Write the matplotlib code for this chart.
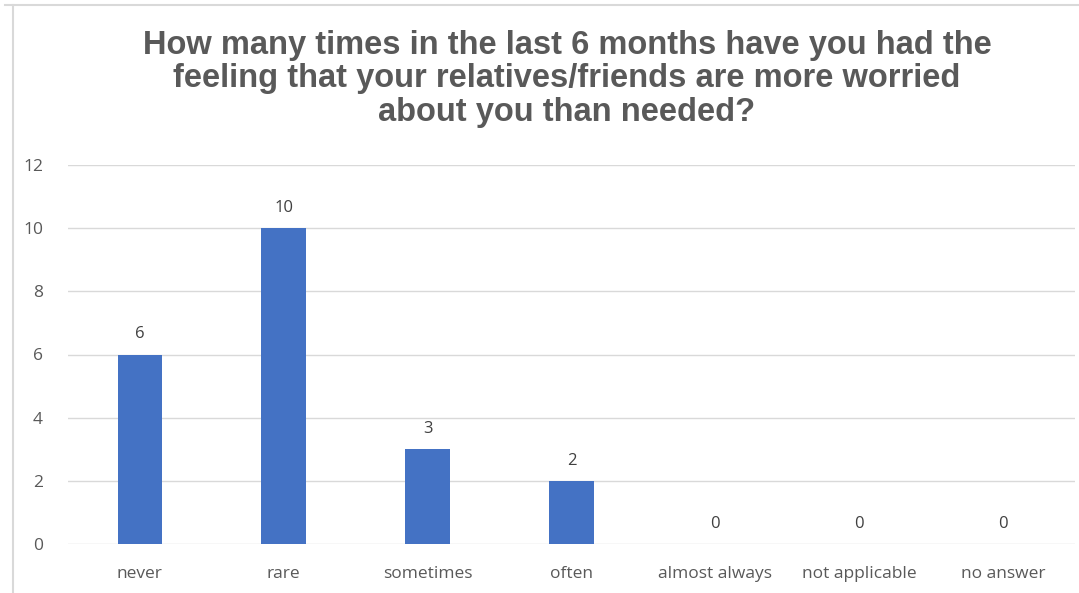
import matplotlib.pyplot as plt
from matplotlib.lines import Line2D

categories = ['never', 'rare', 'sometimes', 'often', 'almost always', 'not applicable', 'no answer']
counts = [6, 10, 3, 2, 0, 0, 0]
yticks = [0, 2, 4, 6, 8, 10, 12]
title = ('How many times in the last 6 months have you had the\n'
         'feeling that your relatives/friends are more worried\n'
         'about you than needed?')

W, H = 1079, 593
fig = plt.figure(figsize=(W / 100, H / 100), dpi=100)
fig.patch.set_facecolor('white')

# plot area: x 68..1075 px, y 165 (12) .. 544 (0)
ax = fig.add_axes([68 / W, 1 - 544 / H, (1075 - 68) / W, (544 - 165) / H])
x = list(range(len(categories)))
ax.bar(x, counts, width=0.31, color='#4472C4', zorder=3)
for xi, v in zip(x, counts):
    ax.text(xi, v + 0.38, str(v), ha='center', va='bottom', fontsize=12,
            color='#404040', family='Open Sans')

ax.set_xlim(-0.5, len(categories) - 0.5)
ax.set_ylim(0, 12)
ax.set_yticks(yticks)
ax.set_xticks(x)
ax.set_xticklabels(categories)
ax.grid(axis='y', color='#d9d9d9', linewidth=1, zorder=0)
for s in ax.spines.values():
    s.set_visible(False)
ax.tick_params(length=0, labelsize=12.5, colors='#595959', pad=16)
ax.tick_params(axis='y', pad=18)
for lab in ax.get_xticklabels() + ax.get_yticklabels():
    lab.set_family('Open Sans')

fig.text(567 / W, 1 - 79 / H, title, ha='center', va='center', fontsize=23.5,
         fontweight='bold', color='#595959', family='Liberation Sans',
         linespacing=1.12)

# chart border (screenshot edge)
fig.add_artist(Line2D([5 / W, 1], [1 - 5 / H, 1 - 5 / H], color='#d9d9d9', lw=1.5))
fig.add_artist(Line2D([13 / W, 13 / W], [0, 1 - 5 / H], color='#d9d9d9', lw=1.5))

fig.savefig('out.png', dpi=100)
